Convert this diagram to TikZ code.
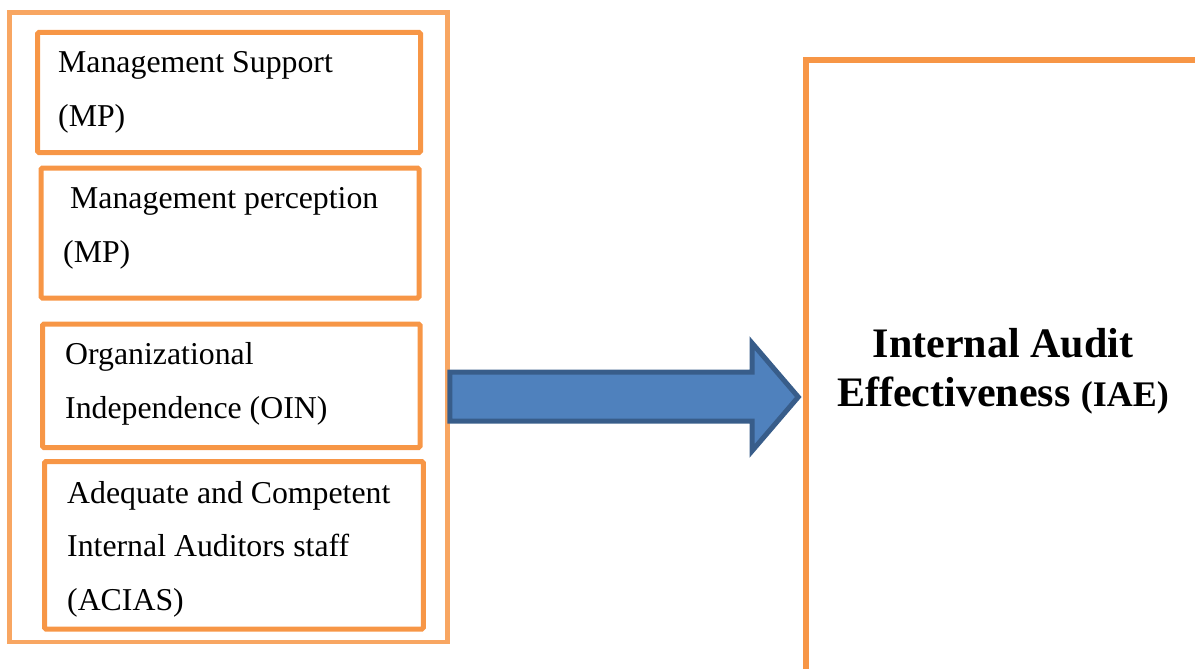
\documentclass[tikz,border=0pt]{standalone}
\usepackage{fontspec}
\setmainfont{Liberation Serif}
\usepackage{tikz}
\usetikzlibrary{arrows.meta, positioning, calc}
\definecolor{boxorange}{HTML}{F79646}
\definecolor{arrowblue}{HTML}{4F81BD}
\definecolor{arrowedge}{HTML}{385D8A}

\begin{document}
\begin{tikzpicture}[x=1pt, y=-1pt,
    grpbox/.style={draw=boxorange!85, line width=4.5pt, minimum width=438pt,
        minimum height=629.5pt, inner sep=0pt},
    factor/.style={draw=boxorange, line width=5pt, rounded corners=1.5pt, inner sep=0pt},
    factortext/.style={anchor=base west, align=left, inner sep=0pt,
        font=\fontsize{31.8}{53.5}\selectfont},
    resultbox/.style={draw=boxorange, line width=5.5pt, inner sep=0pt},
    fatarrow/.style={draw=arrowedge, fill=arrowblue, line width=5pt, line join=miter}]
    \useasboundingbox (0,0) rectangle (1195,669);
    % left group of factors
    \node[grpbox] (grp) at (228.5,327.25) {};
    \node[factor, minimum width=383pt, minimum height=120pt] (ms) at (229,92.5) {};
    \node[factor, minimum width=378pt, minimum height=130pt] (mp) at (230,233) {};
    \node[factor, minimum width=377.5pt, minimum height=123.5pt] (oin) at (231.25,385.75) {};
    \node[factor, minimum width=378.8pt, minimum height=167.5pt] (acias) at (233.9,545.25) {};
    % text anchored at the baseline of its last line
    \node[factortext] (mstext) at (58,126) {Management Support\\(MP)};
    \node[factortext] (mptext) at (63,262) {\hspace{7pt}Management perception\\(MP)};
    \node[factortext] (ointext) at (65,418) {Organizational\\Independence (OIN)};
    \node[factortext] (aciastext) at (67,610) {Adequate and Competent\\Internal Auditors staff\\(ACIAS)};
    % dependent variable
    \node[resultbox, minimum width=494pt, minimum height=660pt] (iae) at (1053,390) {};
    \node[anchor=base, align=center, inner sep=0pt,
        font=\fontsize{42}{49}\selectfont\bfseries] (iaetext) at (1003,406)
        {Internal Audit\\Effectiveness {\fontsize{36}{49}\selectfont(IAE)}};
    % block arrow
    \coordinate (tip) at ($(iae.west |- 0,397)+(-5,0)$);
    \draw[fatarrow] (grp.east |- 0,372) -- (752,372) -- (752,343) -- (tip)
        -- (752,451) -- (752,421) -- (grp.east |- 0,421) -- cycle;
\end{tikzpicture}
\end{document}
